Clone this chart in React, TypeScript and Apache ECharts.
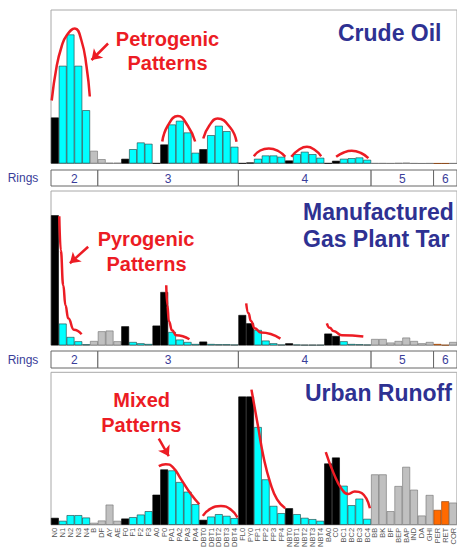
import React, { useEffect, useRef } from "react";
import * as echarts from "echarts";

const categories = [
  "N0", "N1", "N2", "N3", "N4", "B", "DF", "AY", "AE", "F0", "F1", "F2", "F3", "A0", "P0",
  "PA1", "PA2", "PA3", "PA4", "DBT0", "DBT1", "DBT2", "DBT3", "DBT4", "FL0", "PY0",
  "FP1", "FP2", "FP3", "FP4", "NBT0", "NBT1", "NBT2", "NBT3", "NBT4", "BA0", "C0",
  "BC1", "BC2", "BC3", "BC4", "BB", "BK", "BF", "BEP", "BAP", "IND", "DA", "GHI",
  "PER", "RET", "COR",
];

// P = parent (black), A = alkylated (cyan), O = other (gray), B = biogenic (orange)
const kinds = [
  "P", "A", "A", "A", "A", "O", "O", "O", "O", "P", "A", "A", "A", "P", "P",
  "A", "A", "A", "A", "P", "A", "A", "A", "A", "P", "P",
  "A", "A", "A", "A", "P", "A", "A", "A", "A", "P", "P",
  "A", "A", "A", "A", "O", "O", "O", "O", "O", "O", "O", "O",
  "B", "B", "O",
];

const crudeOil = [
  46, 97.7, 129, 97.7, 53.3, 12.7, 4.3, 0.7, 0.7, 4.7, 14.3, 21, 19.7, 0.3, 19,
  39, 42.7, 31, 10.7, 14.3, 28.3, 37.7, 32.3, 16.7, 0.3, 1,
  4.7, 8, 8, 6.7, 3, 9.3, 11.7, 9.3, 5.7, 0.3, 2.7,
  4.7, 5.3, 6, 3.7, 0.3, 0.3, 0.2, 0.5, 0.8, 0.2, 0.1, 0.2,
  0.1, 0.1, 0.2,
];

const gasPlantTar = [
  130, 21.7, 8.3, 4, 1, 4.3, 14, 14.7, 4, 19, 3.3, 2, 1.3, 19.7, 53.3,
  13.3, 5.7, 3.3, 1.3, 3.7, 1.3, 1, 1, 0.7, 30.3, 22,
  15.3, 4.7, 2, 0.7, 2, 0.7, 0.5, 0.5, 0.5, 11.7, 9.3,
  4, 1.3, 1, 0.7, 6.3, 6.3, 2.7, 4.3, 7.7, 4.3, 2, 3.3,
  1.3, 0.3, 3.3,
];

const urbanRunoff = [
  7, 4, 9.7, 9.7, 7.3, 2, 4.3, 20.3, 4, 6.3, 7.7, 10.3, 13.7, 30.3, 55.7,
  54.7, 43, 33.3, 20.7, 5, 8.3, 10.7, 9, 6.7, 129, 129,
  98.3, 45.7, 19, 11.7, 16.7, 10.7, 7, 5.7, 4, 61.7, 67.7,
  39.3, 19.7, 26.3, 6, 50.7, 50.7, 13.7, 39, 58.3, 35.3, 9.3, 30,
  15, 23.7, 22.3,
];

// hand-drawn pattern curves, [category position, value]
const crudeCurves = [
  [[-0.41, 63], [0.22, 97], [0.86, 117], [1.5, 128], [2.55, 135], [3.4, 123], [4.05, 97], [4.47, 67]],
  [[13.75, 22], [14.47, 38], [15.74, 47.5], [17.0, 38], [17.96, 22]],
  [[19.0, 25], [19.78, 38], [20.84, 45], [22.5, 35.5], [23.26, 21.7]],
  [[25.48, 7.3], [26.3, 13], [27.4, 15], [28.6, 12.5], [29.51, 6.7]],
  [[30.28, 6.7], [31.2, 13.5], [32.28, 16.7], [33.3, 13.5], [34.1, 7.3]],
  [[36.02, 6.7], [37, 11], [38.02, 12.7], [39.2, 10.5], [40.15, 5.3]],
];
const tarCurves = [
  [[0.56, 129], [0.75, 95], [1.07, 60], [1.35, 40], [1.71, 27], [2.43, 15.5], [3.42, 11]],
  [[14.26, 60], [14.4, 40], [14.6, 24], [15.0, 15], [15.53, 10], [17.23, 6]],
  [[24.5, 42], [24.8, 32], [25.1, 24.3], [25.6, 17], [26.4, 12.7], [28.88, 6.7]],
  [[34.83, 22], [35.2, 17.5], [35.68, 14.3], [36.74, 10], [39.5, 8.7]],
];
const runoffCurves = [
  [[13.31, 59], [14.2, 61], [15.1, 58], [16.17, 45.7], [17.44, 30.7], [18.5, 20.7]],
  [[18.95, 9], [19.9, 16], [21.27, 19], [22.6, 15], [23.39, 7.3]],
  [[25.18, 136], [26.0, 100], [26.76, 67], [27.6, 42], [28.46, 25.7], [29.5, 16.7]],
  [[34.7, 73], [35.7, 52], [36.74, 36], [37.6, 31], [38.4, 33.5], [39.3, 32], [40.36, 16.7]],
];

const crudeArrow = [[6.81, 120], [4.69, 103.5]];
const tarArrow = [[4.26, 98.6], [1.92, 82]];
const runoffArrow = [[13.31, 86.7], [14.59, 69]];

const rings = [
  { label: "2", from: 0, to: 5 },
  { label: "3", from: 6, to: 23 },
  { label: "4", from: 24, to: 40 },
  { label: "5", from: 41, to: 48 },
  { label: "6", from: 49, to: 51 },
];

const RED = "#ec1c24";
const BLUE = "#2e3192";
const FONT = '"Liberation Sans", Arial, Helvetica, sans-serif';
const kindColor: Record<string, string> = { P: "#000000", A: "#00ffff", O: "#c0c0c0", B: "#ff6a00" };
const kindBorder: Record<string, string> = { P: "#000000", A: "#1f3a3a", O: "#6e6e6e", B: "#8a3a00" };

const LEFT = 51;
const PLOT_W = 407.7;
const panels = [
  { top: 10, height: 153.5, values: crudeOil, curves: crudeCurves, arrow: crudeArrow },
  { top: 191, height: 154.3, values: gasPlantTar, curves: tarCurves, arrow: tarArrow },
  { top: 372.3, height: 153.4, values: urbanRunoff, curves: runoffCurves, arrow: runoffArrow },
];
const ringRows = [
  { top: 170, height: 16 },
  { top: 351, height: 17 },
];

function buildOption() {
  const grid: any[] = [];
  const xAxis: any[] = [];
  const yAxis: any[] = [];
  const series: any[] = [];

  const addPanel = (p: any, idx: number, showLabels: boolean) => {
    const g = grid.length;
    grid.push({
      left: LEFT, width: PLOT_W, top: p.top, height: p.height,
      show: true, borderColor: "#a8a8a8", borderWidth: 1, backgroundColor: "transparent",
    });
    const catIdx = xAxis.length;
    xAxis.push({
      type: "category", gridIndex: g, data: categories,
      axisLine: { show: false }, axisTick: { show: false },
      axisLabel: showLabels
        ? { show: true, interval: 0, rotate: 90, fontSize: 7.5, color: "#555", margin: 3, fontFamily: FONT }
        : { show: false },
    });
    const valIdx = xAxis.length;
    xAxis.push({ type: "value", gridIndex: g, min: -0.5, max: 51.5, show: false });
    const yIdx = yAxis.length;
    yAxis.push({ type: "value", gridIndex: g, min: 0, max: p.height, show: false, splitLine: { show: false } });

    series.push({
      type: "bar", xAxisIndex: catIdx, yAxisIndex: yIdx, barCategoryGap: "0%", silent: true,
      data: p.values.map((v: number, i: number) => ({
        value: v,
        itemStyle: { color: kindColor[kinds[i]], borderColor: kindBorder[kinds[i]], borderWidth: 0.6 },
      })),
    });
    p.curves.forEach((c: number[][]) => {
      series.push({
        type: "line", xAxisIndex: valIdx, yAxisIndex: yIdx, data: c, smooth: 0.5,
        smoothMonotone: idx === 1 ? "x" : undefined,
        symbol: "none", silent: true, clip: false,
        lineStyle: { color: RED, width: 2.5 },
      });
    });
    series.push({
      type: "line", xAxisIndex: valIdx, yAxisIndex: yIdx, data: [], silent: true,
      markLine: {
        silent: true, symbol: ["none", "arrow"], symbolSize: 10, label: { show: false },
        lineStyle: { color: RED, width: 2.5, type: "solid" },
        data: [[{ coord: p.arrow[0] }, { coord: p.arrow[1] }]],
      },
    });
  };

  const addRings = (r: any) => {
    const g = grid.length;
    grid.push({ left: LEFT, width: PLOT_W, top: r.top, height: r.height, show: false });
    const xi = xAxis.length;
    xAxis.push({ type: "value", gridIndex: g, min: -0.5, max: 51.5, show: false });
    const yi = yAxis.length;
    yAxis.push({ type: "value", gridIndex: g, min: 0, max: 1, show: false });
    series.push({
      type: "custom", xAxisIndex: xi, yAxisIndex: yi, silent: true,
      data: rings.map((d) => [d.from, d.to]),
      renderItem: (params: any, api: any) => {
        const a = api.coord([api.value(0) - 0.5, 1]);
        const b = api.coord([api.value(1) + 0.5, 0]);
        return {
          type: "group",
          children: [
            {
              type: "rect",
              shape: { x: a[0], y: a[1], width: b[0] - a[0], height: b[1] - a[1] },
              style: { fill: "#ffffff", stroke: "#666666", lineWidth: 1 },
            },
            {
              type: "text",
              style: {
                text: rings[params.dataIndex].label,
                x: (a[0] + b[0]) / 2, y: (a[1] + b[1]) / 2 + 0.5,
                align: "center", verticalAlign: "middle",
                fontSize: 12, fontFamily: FONT, fill: "#3a3d99",
              },
            },
          ],
        };
      },
    });
  };

  addPanel(panels[0], 0, false);
  addRings(ringRows[0]);
  addPanel(panels[1], 1, false);
  addRings(ringRows[1]);
  addPanel(panels[2], 2, true);

  const txt = (text: string, x: number, y: number, size: number, fill: string, align = "left") => ({
    type: "text", x, y, silent: true,
    style: { text, align, verticalAlign: "middle", font: `bold ${size}px ${FONT}`, fill },
  });

  const graphic = [
    { type: "text", x: 23, y: 178, silent: true, style: { text: "Rings", align: "center", verticalAlign: "middle", font: `12px ${FONT}`, fill: "#3a3d99" } },
    { type: "text", x: 23, y: 359.5, silent: true, style: { text: "Rings", align: "center", verticalAlign: "middle", font: `12px ${FONT}`, fill: "#3a3d99" } },
    txt("Crude Oil", 338, 33, 23, BLUE),
    txt("Manufactured", 303, 212, 23, BLUE),
    txt("Gas Plant Tar", 303, 238.5, 23, BLUE),
    txt("Urban Runoff", 305, 393, 23, BLUE),
    txt("Petrogenic", 167.5, 39, 20, RED, "center"),
    txt("Patterns", 167.5, 63, 20, RED, "center"),
    txt("Pyrogenic", 146, 238.5, 20, RED, "center"),
    txt("Patterns", 146.5, 264, 20, RED, "center"),
    txt("Mixed", 141.7, 399.5, 20, RED, "center"),
    txt("Patterns", 141.3, 425, 20, RED, "center"),
  ];

  return {
    animation: false,
    backgroundColor: "#ffffff",
    textStyle: { fontFamily: FONT },
    grid, xAxis, yAxis, series, graphic,
  };
}

export default function App() {
  const ref = useRef<HTMLDivElement>(null);
  useEffect(() => {
    if (!ref.current) return;
    const chart = echarts.init(ref.current, undefined, { renderer: "svg" });
    chart.setOption(buildOption() as any);
    return () => chart.dispose();
  }, []);
  return (
    <div
      ref={ref}
      style={{ position: "absolute", left: 0, top: 0, width: 457, height: 550, overflow: "hidden" }}
    />
  );
}
